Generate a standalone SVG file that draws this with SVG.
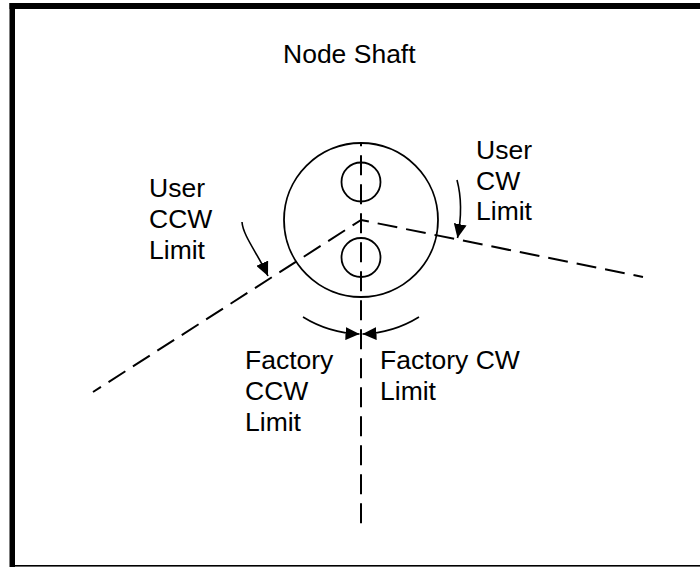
<svg xmlns="http://www.w3.org/2000/svg" width="700" height="567" viewBox="0 0 700 567">
  <defs>
    <style>
      .lbl { font-family: "Liberation Sans", Arial, sans-serif; font-size: 26.5px; fill: #000; }
      .axis { fill: none; stroke: #000; stroke-width: 2; stroke-dasharray: 20 9; }
      .ring { fill: none; stroke: #000; stroke-width: 1.8; }
      .turn { fill: none; stroke: #000; stroke-width: 1.6; marker-end: url(#head); }
    </style>
    <marker id="head" markerUnits="userSpaceOnUse" markerWidth="15" markerHeight="13" refX="14" refY="6.5" orient="auto">
      <path d="M0,0 L14,6.5 L0,13 z" fill="#000"/>
    </marker>
  </defs>

  <rect x="0" y="0" width="700" height="567" fill="#fff"/>

  <!-- frame -->
  <g id="frame" fill="#000">
    <rect x="9.5" y="3" width="690.5" height="6"/>
    <rect x="9.5" y="3" width="5.5" height="564"/>
    <rect x="15" y="565" width="685" height="1.6"/>
  </g>

  <!-- shaft with two holes -->
  <g id="shaft">
    <circle class="ring" cx="361" cy="220" r="77"/>
    <circle class="ring" cx="361" cy="182" r="19.5"/>
    <circle class="ring" cx="361" cy="257.5" r="19.5"/>
  </g>

  <g id="title">
    <text class="lbl" x="283" y="62.5">Node Shaft</text>
  </g>

  <g id="user-ccw">
    <text class="lbl" x="149" y="196.5">User</text>
    <text class="lbl" x="149" y="227.5">CCW</text>
    <text class="lbl" x="149" y="258.5">Limit</text>
  </g>

  <g id="user-cw">
    <text class="lbl" x="476" y="158.5">User</text>
    <text class="lbl" x="476" y="189.5">CW</text>
    <text class="lbl" x="476" y="220">Limit</text>
  </g>

  <g id="factory-ccw">
    <text class="lbl" x="245" y="369">Factory</text>
    <text class="lbl" x="245" y="400">CCW</text>
    <text class="lbl" x="245" y="431">Limit</text>
  </g>

  <g id="factory-cw">
    <text class="lbl" x="380" y="369">Factory CW</text>
    <text class="lbl" x="380" y="400">Limit</text>
  </g>

  <!-- limit lines and rotation arrows -->
  <g id="connectors">
    <line class="axis" x1="361" y1="143" x2="361" y2="527" stroke-dashoffset="16.7"/>
    <line class="axis" x1="361" y1="220" x2="93" y2="392" stroke-dashoffset="10"/>
    <line class="axis" x1="361" y1="220" x2="643" y2="277" stroke-dashoffset="12"/>

    <path class="turn" d="M242,222 C243,236 258,254 268,276"/>
    <path class="turn" d="M457,180 C461,195 462,215 457.5,238"/>
    <path class="turn" d="M303,317 A114,114 0 0,0 359.5,334"/>
    <path class="turn" d="M419,317 A114,114 0 0,1 362.5,334"/>
  </g>
</svg>
